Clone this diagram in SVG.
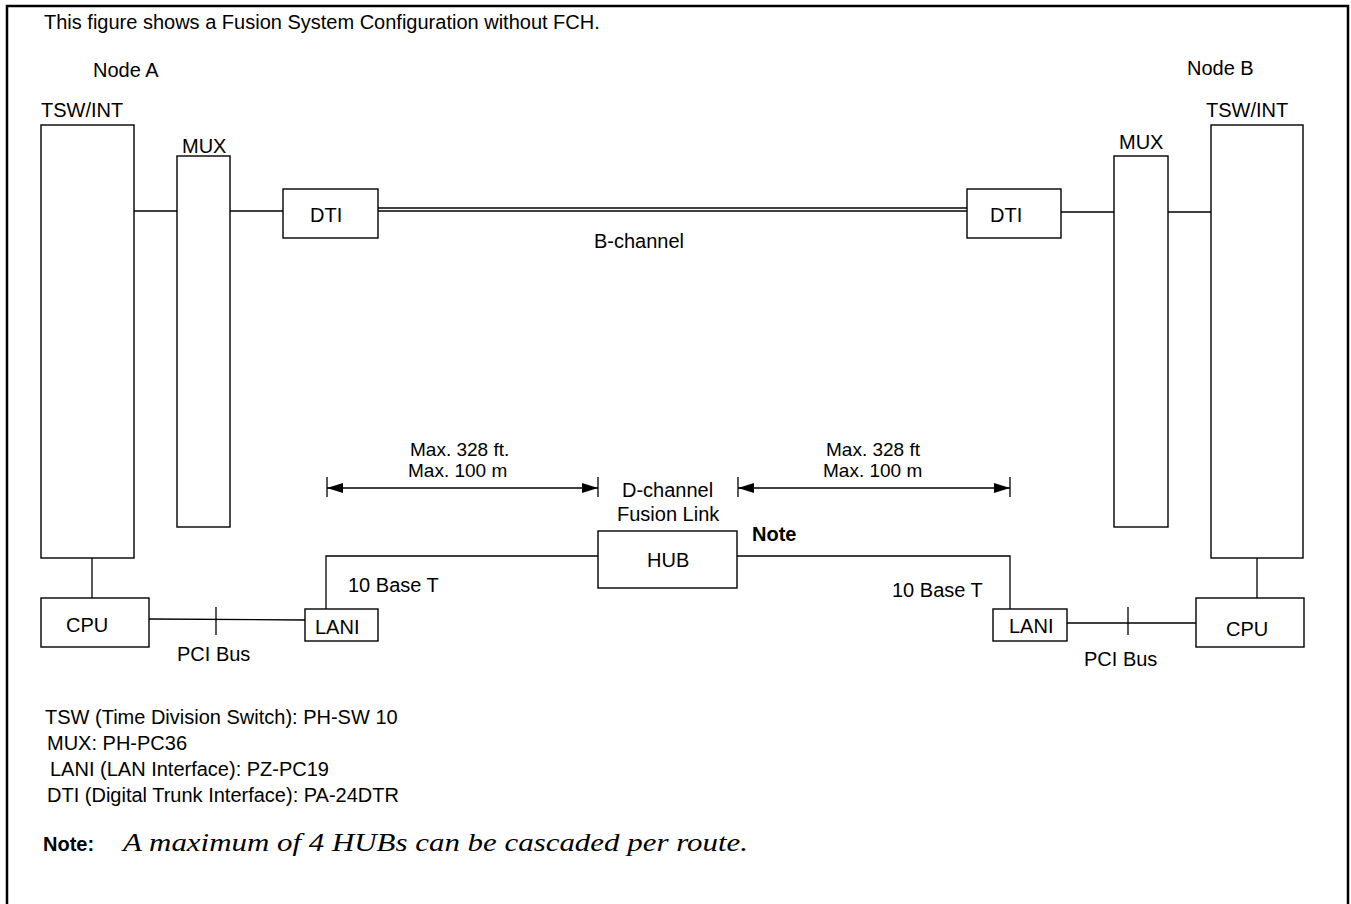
<svg xmlns="http://www.w3.org/2000/svg" width="1351" height="904" viewBox="0 0 1351 904">
<style>
  .box { fill: #fff; stroke: #000; stroke-width: 1.4; }
  .ln { fill: none; stroke: #000; stroke-width: 1.3; }
  .t { font-family: "Liberation Sans", Arial, sans-serif; font-size: 20px; fill: #000; }
  .s { font-size: 19px; }
  .b { font-weight: bold; }
  .it { font-family: "Liberation Serif", "Times New Roman", serif; font-style: italic; font-size: 25px; fill: #000; }
</style>
<defs>
  <marker id="arr" viewBox="0 0 16 10" refX="16" refY="5" markerWidth="16" markerHeight="10" markerUnits="userSpaceOnUse" orient="auto-start-reverse">
    <path d="M0,0 L16,5 L0,10 Z" fill="#000"/>
  </marker>
</defs>
<rect x="0" y="0" width="1351" height="904" fill="#fff"/>
<rect x="7" y="6" width="1341" height="940" fill="none" stroke="#000" stroke-width="2.5"/>

<text class="t" x="44" y="29">This figure shows a Fusion System Configuration without FCH.</text>
<text class="t" x="93" y="77">Node A</text>
<text class="t" x="1187" y="75">Node B</text>

<g id="connectors">
  <line class="ln" x1="134" y1="211" x2="177" y2="211"/>
  <line class="ln" x1="230" y1="211" x2="283" y2="211"/>
  <line class="ln" x1="378" y1="208" x2="967" y2="208" stroke-width="1"/>
  <line class="ln" x1="378" y1="211" x2="967" y2="211" stroke-width="1"/>
  <line class="ln" x1="1061" y1="212" x2="1114" y2="212"/>
  <line class="ln" x1="1168" y1="212" x2="1211" y2="212"/>
  <line class="ln" x1="92" y1="558" x2="92" y2="598"/>
  <line class="ln" x1="1257" y1="558" x2="1257" y2="598"/>
  <line class="ln" x1="149" y1="619" x2="305" y2="620"/>
  <line class="ln" x1="216" y1="607" x2="216" y2="635"/>
  <line class="ln" x1="1067" y1="623" x2="1196" y2="623"/>
  <line class="ln" x1="1128" y1="607" x2="1128" y2="635"/>
  <polyline class="ln" points="326,609 326,556 598,556"/>
  <polyline class="ln" points="737,556 1010,556 1010,609"/>
  <line class="ln" x1="327" y1="488" x2="598" y2="488" marker-start="url(#arr)" marker-end="url(#arr)"/>
  <line class="ln" x1="327" y1="477" x2="327" y2="497"/>
  <line class="ln" x1="598" y1="477" x2="598" y2="497"/>
  <line class="ln" x1="738" y1="488" x2="1010" y2="488" marker-start="url(#arr)" marker-end="url(#arr)"/>
  <line class="ln" x1="738" y1="477" x2="738" y2="497"/>
  <line class="ln" x1="1010" y1="477" x2="1010" y2="497"/>
  <text class="t" x="594" y="248">B-channel</text>
  <text class="t" x="177" y="661">PCI Bus</text>
  <text class="t" x="1084" y="666">PCI Bus</text>
  <text class="t" x="348" y="592">10 Base T</text>
  <text class="t" x="892" y="597">10 Base T</text>
  <text class="t s" x="410" y="456">Max. 328 ft.</text>
  <text class="t s" x="408" y="477">Max. 100 m</text>
  <text class="t s" x="826" y="456">Max. 328 ft</text>
  <text class="t s" x="823" y="477">Max. 100 m</text>
  <text class="t" x="622" y="497">D-channel</text>
  <text class="t" x="617" y="521">Fusion Link</text>
  <text class="t b" x="752" y="541">Note</text>
</g>

<g id="tsw-a">
  <rect class="box" x="41" y="125" width="93" height="433"/>
  <text class="t" x="41" y="117">TSW/INT</text>
</g>
<g id="mux-a">
  <rect class="box" x="177" y="156" width="53" height="371"/>
  <text class="t" x="182" y="153">MUX</text>
</g>
<g id="dti-a">
  <rect class="box" x="283" y="189" width="95" height="49"/>
  <text class="t" x="310" y="222">DTI</text>
</g>
<g id="dti-b">
  <rect class="box" x="967" y="189" width="94" height="49"/>
  <text class="t" x="990" y="222">DTI</text>
</g>
<g id="mux-b">
  <rect class="box" x="1114" y="156" width="54" height="371"/>
  <text class="t" x="1119" y="149">MUX</text>
</g>
<g id="tsw-b">
  <rect class="box" x="1211" y="125" width="92" height="433"/>
  <text class="t" x="1206" y="117">TSW/INT</text>
</g>
<g id="cpu-a">
  <rect class="box" x="41" y="598" width="108" height="49"/>
  <text class="t" x="66" y="632">CPU</text>
</g>
<g id="lani-a">
  <rect class="box" x="305" y="609" width="73" height="32"/>
  <text class="t" x="315" y="634">LANI</text>
</g>
<g id="hub">
  <rect class="box" x="598" y="531" width="139" height="57"/>
  <text class="t" x="647" y="567">HUB</text>
</g>
<g id="lani-b">
  <rect class="box" x="993" y="609" width="74" height="32"/>
  <text class="t" x="1009" y="633">LANI</text>
</g>
<g id="cpu-b">
  <rect class="box" x="1196" y="598" width="108" height="49"/>
  <text class="t" x="1226" y="636">CPU</text>
</g>

<g id="legend">
  <text class="t" x="45" y="724">TSW (Time Division Switch): PH-SW 10</text>
  <text class="t" x="47" y="750">MUX: PH-PC36</text>
  <text class="t" x="50" y="776">LANI (LAN Interface): PZ-PC19</text>
  <text class="t" x="47" y="802">DTI (Digital Trunk Interface): PA-24DTR</text>
  <text class="t b" x="43" y="851">Note:</text>
  <text class="it" x="123" y="851" textLength="625" lengthAdjust="spacingAndGlyphs">A maximum of 4 HUBs can be cascaded per route.</text>
</g>
</svg>
